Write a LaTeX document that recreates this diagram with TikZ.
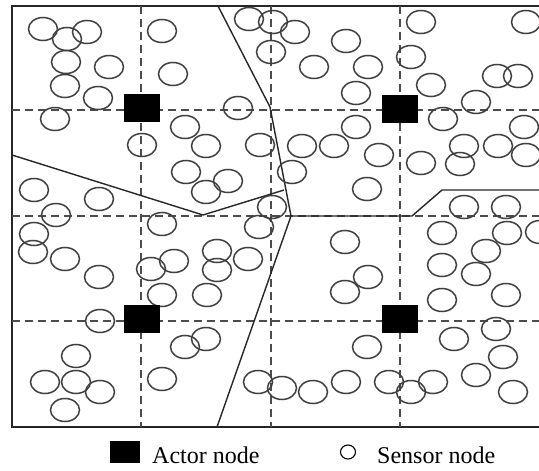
\documentclass[tikz,border=0pt]{standalone}
\usepackage{fontspec}
\setmainfont{Liberation Serif}
\begin{document}
\begin{tikzpicture}[x=1pt,y=-1pt,
  sensor/.style={draw=black!75, line width=1.5pt},
  gridline/.style={draw=black!70, line width=1.4pt, dash pattern=on 8pt off 5pt},
  border/.style={draw=black!85, line width=1.8pt},
  boundary/.style={draw=black!85, line width=1.4pt, line join=round},
  actor/.style={fill=black, draw=none, minimum width=36pt, minimum height=28pt, inner sep=0pt},
  lbl/.style={font=\fontsize{24}{28}\selectfont, anchor=base west, inner sep=0pt}]
\useasboundingbox (0,0) rectangle (539,471);

% field frame (right side runs past the page edge)
\draw[border] (12,6) rectangle (545,427);

% dashed grid
\foreach \gx in {141,271,400}
  \draw[gridline] (\gx,6) -- (\gx,427);
\foreach \gy in {110,216,321}
  \draw[gridline] (12,\gy) -- (545,\gy);

% cluster boundaries
\coordinate (t1) at (218,6);
\coordinate (t2) at (270,107);
\coordinate (mid) at (291,216);
\coordinate (b1) at (217,427);
\coordinate (l1) at (12,155);
\coordinate (l2) at (203,215);
\coordinate (l3) at (284,190);
\coordinate (r1) at (412,216);
\coordinate (r2) at (442,190);
\coordinate (r3) at (545,190);
\draw[boundary] (t1) -- (t2) -- (mid) -- (b1);
\draw[boundary] (l1) -- (l2) -- (l3);
\draw[boundary] (mid) -- (r1) -- (r2) -- (r3);

% sensor nodes
\foreach \sx/\sy in {
  43/29, 87/32, 67/39, 66/62, 109/67, 65/86, 98/98, 55/119, 162/31, 173/74,
  142/145, 34/190, 99/199, 56/215, 185/127, 206/146, 186/172, 228/181, 206/192, 238/108,
  249/19, 273/22, 295/32, 271/52, 346/41, 314/67, 260/145, 302/146, 334/146, 356/127,
  292/172, 272/207, 368/67, 356/93, 367/189, 411/57, 421/22, 431/85, 526/22, 497/76,
  518/76, 476/102, 443/119, 524/127, 379/155, 421/163, 464/146, 460/164, 498/146, 526/155,
  464/207, 506/207,
  34/234, 33/252, 65/259, 99/277, 100/321, 162/224, 151/269, 174/261, 162/295, 76/356,
  45/382, 76/382, 100/392, 65/410, 162/379, 185/347, 206/339, 217/251, 217/270, 248/259,
  207/295, 259/227, 258/382, 282/388, 313/392, 346/382, 345/242, 345/292, 368/277, 367/347,
  389/382, 411/392, 433/382, 442/233, 442/265, 442/300, 476/274, 486/251, 507/233, 540/232,
  506/295, 496/329, 503/357, 454/339, 476/375, 513/392}
  \draw[sensor] (\sx,\sy) ellipse [x radius=14.5pt, y radius=11.5pt];

% actor nodes
\node[actor] (a1) at (141.5,108) {};
\node[actor] (a2) at (400,109) {};
\node[actor] (a3) at (141.5,319) {};
\node[actor] (a4) at (400,319) {};

% legend
\node[fill=black, minimum width=30pt, minimum height=22pt, inner sep=0pt] (keyactor) at (125,452) {};
\node[lbl] (txtactor) at (152,463) {Actor node};
\draw[sensor, line width=1.1pt, draw=black] (348,452) ellipse [x radius=7.5pt, y radius=7pt];
\node[lbl] (txtsensor) at (377,463) {Sensor node};
\end{tikzpicture}
\end{document}
